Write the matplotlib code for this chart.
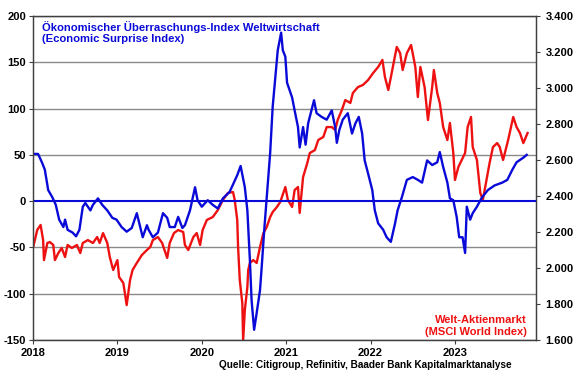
import matplotlib
matplotlib.use("Agg")
import matplotlib.pyplot as plt
from matplotlib.transforms import blended_transform_factory

plt.rcParams['font.family'] = ['Liberation Sans', 'DejaVu Sans']
plt.rcParams['font.weight'] = 'bold'

# Economic Surprise Index (left axis)
blue_x = [2018.01, 2018.06, 2018.11, 2018.14, 2018.18, 2018.23, 2018.27, 2018.31, 2018.36, 2018.38,
          2018.41, 2018.47, 2018.51, 2018.55, 2018.59, 2018.62, 2018.68, 2018.71, 2018.77, 2018.82,
          2018.88, 2018.94, 2018.99, 2019.05, 2019.11, 2019.17, 2019.23, 2019.27, 2019.30, 2019.35,
          2019.37, 2019.42, 2019.48, 2019.54, 2019.59, 2019.62, 2019.68, 2019.72, 2019.77, 2019.80,
          2019.86, 2019.92, 2019.95, 2020.00, 2020.07, 2020.13, 2020.19, 2020.25, 2020.33, 2020.42,
          2020.46, 2020.51, 2020.54, 2020.57, 2020.59, 2020.62, 2020.65, 2020.69, 2020.71, 2020.74,
          2020.77, 2020.81, 2020.84, 2020.88, 2020.90, 2020.94, 2020.96, 2020.99, 2021.01, 2021.07,
          2021.10, 2021.14, 2021.16, 2021.20, 2021.23, 2021.26, 2021.31, 2021.33, 2021.36, 2021.42,
          2021.48, 2021.54, 2021.58, 2021.60, 2021.63, 2021.67, 2021.73, 2021.78, 2021.82, 2021.86,
          2021.90, 2021.93, 2021.97, 2022.02, 2022.05, 2022.09, 2022.15, 2022.19, 2022.24, 2022.29,
          2022.32, 2022.37, 2022.43, 2022.50, 2022.56, 2022.61, 2022.67, 2022.73, 2022.79, 2022.82,
          2022.86, 2022.91, 2022.94, 2022.98, 2023.02, 2023.05, 2023.09, 2023.12, 2023.14, 2023.18,
          2023.21, 2023.26, 2023.32, 2023.39, 2023.47, 2023.56, 2023.62, 2023.68, 2023.73, 2023.81,
          2023.85]
blue_y = [51, 51, 41, 34, 12, 4, -4, -20, -28, -20,
          -31, -34, -38, -31, -6, -2, -10, -4, 3, -4,
          -10, -18, -20, -28, -33, -29, -13, -28, -39, -26,
          -31, -39, -34, -13, -18, -28, -28, -17, -29, -26,
          -10, 15, 1, -6, 1, -4, -8, 3, 10, 28,
          38, 15, -10, -64, -107, -139, -121, -96, -71, -31,
          4, 52, 102, 142, 163, 182, 163, 156, 128, 112,
          98, 80, 58, 80, 61, 84, 102, 109, 95, 91,
          88, 98, 80, 63, 77, 88, 95, 73, 84, 91,
          73, 44, 30, 12, -10, -24, -31, -39, -44, -24,
          -10, 4, 23, 26, 23, 20, 44, 39, 42, 53,
          37, 20, 3, 1, -17, -39, -39, -56, -6, -20,
          -13, -6, 4, 12, 17, 20, 23, 34, 42, 47,
          50]

# MSCI World Index (right axis)
red_x = [2018.00, 2018.05, 2018.09, 2018.12, 2018.13, 2018.17, 2018.20, 2018.24, 2018.26, 2018.30,
         2018.34, 2018.38, 2018.41, 2018.46, 2018.52, 2018.56, 2018.59, 2018.65, 2018.71, 2018.76,
         2018.79, 2018.83, 2018.88, 2018.91, 2018.95, 2019.00, 2019.02, 2019.07, 2019.11, 2019.15,
         2019.18, 2019.23, 2019.29, 2019.35, 2019.39, 2019.42, 2019.48, 2019.53, 2019.59, 2019.62,
         2019.67, 2019.72, 2019.78, 2019.80, 2019.84, 2019.90, 2019.94, 2019.98, 2020.01, 2020.06,
         2020.13, 2020.19, 2020.25, 2020.31, 2020.37, 2020.39, 2020.42, 2020.43, 2020.45, 2020.48,
         2020.49, 2020.51, 2020.54, 2020.55, 2020.57, 2020.61, 2020.65, 2020.69, 2020.73, 2020.77,
         2020.81, 2020.84, 2020.89, 2020.93, 2020.99, 2021.02, 2021.07, 2021.10, 2021.14, 2021.16,
         2021.20, 2021.25, 2021.28, 2021.34, 2021.38, 2021.44, 2021.48, 2021.54, 2021.58, 2021.61,
         2021.66, 2021.70, 2021.76, 2021.79, 2021.85, 2021.91, 2021.97, 2022.03, 2022.09, 2022.14,
         2022.17, 2022.21, 2022.25, 2022.31, 2022.35, 2022.38, 2022.43, 2022.48, 2022.53, 2022.56,
         2022.59, 2022.64, 2022.68, 2022.73, 2022.75, 2022.79, 2022.82, 2022.86, 2022.91, 2022.94,
         2022.98, 2023.00, 2023.04, 2023.08, 2023.12, 2023.15, 2023.19, 2023.21, 2023.26, 2023.30,
         2023.33, 2023.38, 2023.41, 2023.45, 2023.50, 2023.53, 2023.57, 2023.63, 2023.69, 2023.73,
         2023.77, 2023.81, 2023.86]
red_y = [2111, 2211, 2239, 2155, 2044, 2139, 2144, 2128, 2044, 2083,
         2111, 2061, 2128, 2111, 2128, 2083, 2139, 2155, 2139, 2172,
         2139, 2194, 2139, 2061, 1989, 2044, 1950, 1917, 1794, 1933,
         1989, 2028, 2072, 2100, 2117, 2155, 2172, 2139, 2056, 2139,
         2194, 2211, 2200, 2128, 2100, 2172, 2194, 2128, 2211, 2267,
         2283, 2322, 2378, 2417, 2422, 2378, 2267, 2117, 1933, 1805,
         1600, 1767, 1894, 1989, 2028, 2044, 2028, 2117, 2194, 2228,
         2283, 2311, 2339, 2367, 2450, 2378, 2339, 2433, 2450, 2306,
         2505, 2583, 2639, 2655, 2711, 2728, 2783, 2783, 2767, 2822,
         2878, 2933, 2917, 2972, 3005, 3017, 3044, 3083, 3117, 3156,
         3061, 2989, 3083, 3228, 3194, 3100, 3194, 3239, 3117, 2950,
         3117, 3005, 2822, 3005, 3100, 2972, 2917, 2783, 2711, 2806,
         2639, 2489, 2561, 2600, 2639, 2783, 2839, 2672, 2600, 2417,
         2378, 2505, 2583, 2672, 2694, 2672, 2600, 2711, 2839, 2783,
         2750, 2694, 2750]

years = [2018, 2019, 2020, 2021, 2022, 2023]
left_ticks = [-150, -100, -50, 0, 50, 100, 150, 200]
right_ticks = [1600, 1800, 2000, 2200, 2400, 2600, 2800, 3000, 3200, 3400]

BLUE = "#0a0ad8"
RED = "#ee1111"

fig = plt.figure(figsize=(5.8, 3.75), dpi=100)
ax = fig.add_subplot(111)
fig.subplots_adjust(left=33/580, right=536/580, top=1-16/375, bottom=1-340/375)
ax2 = ax.twinx()

# red series behind, blue on top
ax.set_zorder(ax2.get_zorder() + 1)
ax.patch.set_visible(False)

# grid lines at the left axis values, drawn in the back axes
tr = blended_transform_factory(ax2.transAxes, ax.transData)
for v in left_ticks:
    if v != 0:
        ax2.plot([0, 1], [v, v], color="#8a8a8a", lw=1.0, transform=tr, zorder=0)

ax2.plot(red_x, red_y, color=RED, lw=1.7, zorder=2)
ax.axhline(0, color=BLUE, lw=1.5, zorder=1)
ax.plot(blue_x, blue_y, color=BLUE, lw=1.7, zorder=2)

ax.set_xlim(2018, 2023.96)
ax.set_ylim(-150, 200)
ax2.set_ylim(1600, 3400)

ax.set_xticks(years)
ax.set_xticklabels([str(y) for y in years], fontsize=8, fontweight='bold')
ax.set_yticks(left_ticks)
ax.set_yticklabels([str(v) for v in left_ticks], fontsize=8, fontweight='bold')
ax2.set_yticks(right_ticks)
ax2.set_yticklabels([f"{v:,}".replace(",", ".") for v in right_ticks], fontsize=8, fontweight='bold')

for a in (ax, ax2):
    a.tick_params(length=3, width=0.8, color="#404040", pad=2)
    for s in a.spines.values():
        s.set_color("#404040")
        s.set_linewidth(0.9)
ax.tick_params(axis='x', pad=3)
ax2.tick_params(axis='y', pad=4)

ax.text(0.018, 0.985, "Ökonomischer Überraschungs-Index Weltwirtschaft\n(Economic Surprise Index)",
        transform=ax.transAxes, ha='left', va='top', color=BLUE, fontsize=8.1,
        fontweight='bold', linespacing=1.2)
ax.text(0.982, 0.01, "Welt-Aktienmarkt\n(MSCI World Index)", transform=ax.transAxes,
        ha='right', va='bottom', color=RED, fontsize=8.0, fontweight='bold',
        multialignment='right', linespacing=1.2)
fig.text(512/580, 1-365/375, "Quelle: Citigroup, Refinitiv, Baader Bank Kapitalmarktanalyse",
         ha='right', va='center', fontsize=7.2, fontweight='bold', color='black')

fig.savefig("out.png", dpi=100)
